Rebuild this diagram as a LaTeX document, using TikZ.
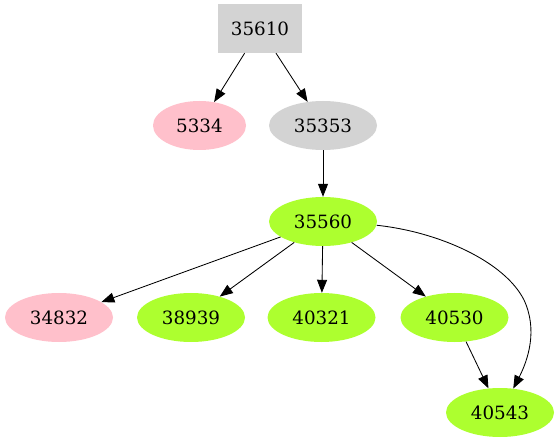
\documentclass[tikz,border=0pt]{standalone}
\usepackage{fontspec}
\setmainfont{DejaVu Serif}
\usetikzlibrary{arrows.meta,shapes.geometric}
\definecolor{gvpink}{HTML}{FFC0CB}
\definecolor{gvgreen}{HTML}{ADFF2F}
\definecolor{gvgray}{HTML}{D3D3D3}
\tikzset{
  gvnode/.style={ellipse,minimum height=49pt,inner sep=0pt,font=\fontsize{18.3}{20}\selectfont},
  pinknode/.style={gvnode,fill=gvpink,minimum width=108pt},
  greennode/.style={gvnode,fill=gvgreen,minimum width=108pt},
  graynode/.style={gvnode,fill=gvgray,minimum width=108pt},
  boxnode/.style={rectangle,fill=gvgray,minimum width=84pt,minimum height=49pt,inner sep=0pt,font=\fontsize{18.3}{20}\selectfont},
  edge/.style={draw=black,line width=0.85pt,-{Triangle[length=13pt,width=10pt]}},
}
\begin{document}
\begin{tikzpicture}[x=1pt,y=-1pt]
\useasboundingbox (0,0) rectangle (559,443);
\node[boxnode] (a) at (260,28.5) {35610};
\node[pinknode,minimum width=93pt] (b) at (199.5,125.5) {5334};
\node[graynode] (c) at (323,125.5) {35353};
\node[greennode] (d) at (323,221.5) {35560};
\node[pinknode] (e) at (59,317.5) {34832};
\node[greennode] (f) at (191,317.5) {38939};
\node[greennode] (g) at (321.5,317.5) {40321};
\node[greennode] (h) at (454.5,317.5) {40530};
\node[greennode] (i) at (500,412.5) {40543};
\draw[edge] (a) -- (b);
\draw[edge] (a) -- (c);
\draw[edge] (c) -- (d);
\draw[edge] (d) -- (e);
\draw[edge] (d) -- (f);
\draw[edge] (d) -- (g);
\draw[edge] (d) -- (h);
\draw[edge] (h) -- (i);
\draw[edge] (d.-4) .. controls (440,232) and (505,262) .. (524,300) .. controls (538,330) and (528,360) .. (i.61);
\end{tikzpicture}
\end{document}
